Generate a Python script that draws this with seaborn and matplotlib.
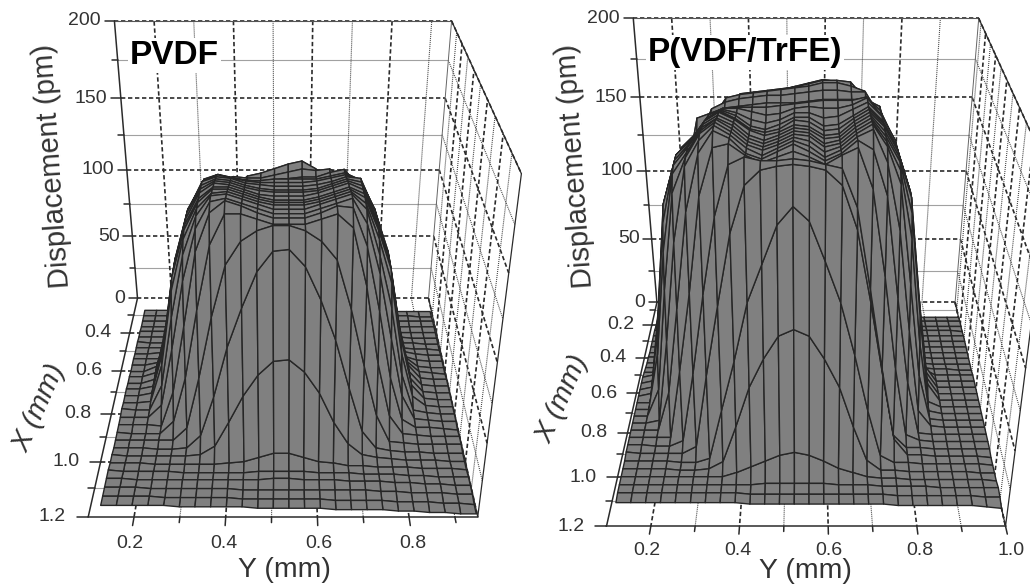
import numpy as np
import matplotlib
matplotlib.use('Agg')
import matplotlib.pyplot as plt
import seaborn as sns
from mpl_toolkits.mplot3d import proj3d

############################################
# Data
############################################

# PVDF: mm on both floor axes, displacement in pm
pvdf_y = [.13, .164, .198, .232, .266, .30, .334, .368, .402, .436, .47, .504, .538,
          .572, .606, .64, .674, .708, .742, .776, .81, .844, .878, .912, .946]
pvdf_x = [.28, .312, .343, .375, .407, .438, .47, .502, .534, .565, .597, .629, .66, .692, .724,
          .755, .787, .819, .851, .882, .914, .946, .977, 1.009, 1.041, 1.073, 1.104, 1.136, 1.168, 1.2]
pvdf_z = [
    [1, 1, 1, 1, 1, 1, 1, 1, 1, 1, 1, 1, 1, 1, 1, 1, 0, 0, 0, 0, 0, 0, 0, 0, 0],
    [1, 1, 1, 1, 1, 1, 1, 1, 1, 1, 1, 1, 1, 1, 1, 1, 1, 1, 1, 1, 1, 1, 1, 0, 0],
    [1, 1, 1, 1, 1, 1, 1, 1, 1, 2, 3, 7, 7, 4, 2, 1, 1, 1, 1, 1, 1, 1, 1, 1, 1],
    [1, 1, 1, 1, 1, 1, 1, 3, 21, 39, 50, 57, 57, 51, 42, 24, 4, 2, 1, 1, 1, 1, 1, 1, 1],
    [2, 2, 2, 2, 2, 2, 10, 38, 68, 88, 104, 112, 114, 108, 92, 70, 46, 17, 3, 2, 2, 1, 1, 1, 1],
    [2, 2, 2, 2, 3, 15, 50, 85, 112, 120, 122, 125, 128, 130, 125, 117, 98, 62, 25, 3, 2, 2, 1, 1, 1],
    [3, 2, 2, 3, 12, 45, 95, 120, 123, 122, 122, 124, 126, 128, 127, 128, 123, 100, 55, 18, 4, 2, 2, 1, 1],
    [3, 3, 3, 5, 30, 75, 118, 126, 125, 124, 123, 124, 125, 126, 126, 129, 131, 121, 85, 40, 8, 3, 2, 2, 1],
    [3, 3, 4, 15, 55, 100, 128, 131, 129, 127, 127, 128, 128, 128, 128, 130, 132, 128, 104, 62, 22, 5, 3, 2, 2],
    [4, 4, 4, 24, 72, 112, 130, 134, 132, 130, 129, 129, 129, 129, 130, 132, 134, 131, 112, 78, 32, 6, 3, 2, 2],
    [4, 4, 6, 30, 80, 116, 133, 136, 135, 132, 131, 130, 130, 130, 131, 133, 136, 135, 116, 85, 38, 10, 3, 2, 2],
    [4, 4, 8, 36, 88, 119, 134, 138, 137, 134, 132, 131, 131, 131, 132, 135, 138, 136, 119, 92, 45, 12, 4, 3, 2],
    [5, 5, 8, 38, 90, 120, 135, 140, 139, 136, 134, 133, 133, 133, 134, 137, 140, 137, 120, 95, 48, 14, 4, 3, 3],
    [5, 5, 8, 38, 90, 120, 136, 142, 141, 138, 135, 134, 134, 134, 136, 139, 142, 138, 120, 95, 48, 14, 4, 3, 3],
    [6, 6, 8, 38, 90, 120, 136, 143, 143, 140, 137, 135, 135, 135, 137, 140, 143, 139, 120, 95, 48, 14, 4, 3, 3],
    [6, 6, 8, 38, 90, 120, 137, 145, 145, 142, 139, 137, 137, 137, 139, 142, 145, 140, 120, 95, 48, 14, 4, 3, 3],
    [6, 6, 7, 34, 85, 118, 137, 146, 147, 144, 141, 139, 139, 139, 141, 144, 147, 140, 118, 90, 42, 11, 4, 3, 3],
    [7, 6, 6, 24, 72, 112, 136, 148, 149, 146, 143, 140, 140, 140, 143, 146, 149, 140, 112, 78, 32, 6, 4, 3, 3],
    [6, 6, 6, 15, 55, 100, 132, 148, 150, 147, 144, 141, 141, 141, 144, 147, 150, 135, 104, 62, 22, 5, 4, 3, 3],
    [6, 6, 6, 5, 30, 75, 122, 145, 152, 149, 145, 142, 142, 142, 145, 149, 148, 125, 85, 40, 10, 4, 4, 3, 2],
    [6, 5, 5, 5, 14, 45, 90, 130, 148, 148, 145, 142, 142, 142, 145, 148, 140, 105, 55, 18, 5, 4, 3, 3, 3],
    [6, 6, 6, 6, 6, 15, 50, 90, 122, 136, 142, 145, 145, 142, 136, 125, 95, 58, 24, 5, 4, 3, 3, 3, 3],
    [6, 6, 6, 5, 5, 6, 15, 42, 75, 100, 122, 134, 135, 125, 105, 80, 48, 18, 6, 4, 3, 3, 2, 2, 2],
    [7, 6, 6, 6, 6, 6, 7, 13, 30, 48, 62, 71, 72, 64, 50, 30, 15, 7, 5, 4, 3, 3, 3, 2, 2],
    [7, 7, 7, 6, 6, 6, 6, 6, 7, 8, 11, 14, 14, 11, 8, 7, 5, 5, 4, 4, 4, 3, 3, 3, 2],
    [8, 7, 7, 7, 7, 6, 6, 6, 6, 6, 7, 7, 7, 7, 6, 6, 6, 5, 5, 5, 4, 4, 3, 3, 3],
    [8, 8, 7, 7, 7, 7, 7, 7, 7, 7, 7, 8, 8, 7, 7, 7, 6, 6, 6, 5, 5, 4, 4, 3, 3],
    [8, 8, 8, 7, 7, 7, 7, 7, 7, 6, 6, 6, 6, 6, 6, 6, 6, 6, 5, 5, 4, 4, 4, 3, 3],
    [8, 8, 8, 8, 7, 7, 7, 7, 7, 6, 6, 6, 6, 6, 6, 5, 5, 5, 5, 4, 4, 4, 3, 3, 2],
    [8, 8, 8, 8, 8, 7, 7, 7, 7, 7, 6, 6, 6, 6, 6, 5, 5, 5, 5, 4, 4, 3, 3, 2, 2],
]

# P(VDF/TrFE)
trfe_y = [.114, .148, .182, .216, .25, .285, .319, .353, .387, .421, .455, .489, .523, .557,
          .591, .626, .66, .694, .728, .762, .796, .83, .864, .898, .932, .966, 1.0]
trfe_x = [.15, .184, .218, .251, .285, .319, .353, .387, .42, .454, .488, .522, .556, .589, .623,
          .657, .691, .725, .758, .792, .826, .86, .894, .927, .961, .995, 1.029, 1.063, 1.096, 1.13]
trfe_z = [
    [3, 3, 3, 3, 2, 2, 2, 2, 2, 1, 1, 1, 1, 1, 1, 1, 1, 1, 1, 1, 0, 0, 0, 0, 0, 0, 0],
    [1, 1, 1, 1, 1, 1, 1, 1, 1, 2, 8, 15, 18, 15, 8, 2, 1, 1, 1, 1, 1, 1, 1, 1, 1, 1, 1],
    [1, 1, 1, 1, 1, 1, 2, 16, 36, 56, 71, 79, 83, 79, 71, 56, 36, 17, 2, 1, 1, 1, 1, 1, 1, 1, 1],
    [2, 2, 2, 2, 2, 2, 31, 76, 101, 121, 136, 146, 149, 146, 136, 121, 101, 76, 36, 6, 2, 2, 2, 2, 2, 2, 1],
    [2, 2, 2, 2, 2, 13, 60, 105, 146, 166, 170, 172, 174, 176, 178, 177, 164, 140, 98, 58, 17, 2, 2, 2, 2, 2, 2],
    [2, 2, 2, 2, 16, 65, 115, 156, 172, 173, 174, 175, 176, 178, 180, 180, 179, 170, 130, 75, 17, 2, 2, 2, 2, 2, 2],
    [2, 2, 2, 4, 66, 115, 160, 172, 174, 175, 176, 177, 178, 179, 181, 181, 179, 176, 140, 72, 10, 2, 2, 2, 2, 2, 2],
    [2, 2, 3, 45, 104, 150, 168, 172, 174, 175, 176, 176, 177, 178, 179, 179, 178, 178, 165, 125, 55, 3, 2, 2, 2, 2, 2],
    [3, 3, 9, 68, 128, 165, 168, 171, 172, 173, 174, 174, 174, 175, 176, 176, 176, 176, 172, 146, 80, 15, 3, 2, 2, 2, 2],
    [3, 3, 25, 92, 144, 158, 168, 172, 174, 174, 174, 175, 176, 177, 178, 178, 178, 180, 172, 156, 100, 36, 3, 2, 2, 2, 2],
    [4, 4, 47, 112, 153, 161, 172, 176, 176, 174, 172, 173, 176, 177, 176, 176, 178, 182, 172, 158, 120, 55, 4, 3, 3, 2, 2],
    [5, 5, 57, 126, 154, 162, 173, 178, 176, 172, 170, 172, 176, 176, 173, 174, 178, 182, 174, 160, 132, 68, 8, 3, 3, 3, 3],
    [6, 8, 63, 132, 156, 164, 175, 180, 177, 171, 169, 172, 176, 176, 171, 172, 177, 182, 174, 160, 136, 72, 15, 3, 3, 3, 3],
    [6, 8, 63, 133, 158, 166, 177, 182, 178, 172, 170, 172, 177, 176, 171, 172, 178, 183, 175, 161, 137, 72, 15, 3, 3, 3, 3],
    [6, 8, 63, 134, 160, 168, 179, 184, 180, 174, 171, 173, 177, 176, 171, 172, 179, 184, 176, 162, 138, 72, 15, 3, 3, 3, 3],
    [6, 8, 63, 134, 160, 169, 180, 185, 181, 174, 171, 174, 178, 177, 172, 173, 180, 185, 176, 162, 138, 72, 15, 3, 3, 3, 3],
    [6, 6, 56, 126, 160, 170, 181, 186, 182, 175, 172, 175, 179, 178, 172, 174, 181, 186, 176, 162, 132, 67, 7, 3, 3, 3, 3],
    [6, 6, 45, 112, 158, 170, 182, 188, 183, 176, 173, 176, 180, 179, 173, 175, 182, 187, 176, 160, 120, 53, 5, 3, 3, 3, 3],
    [6, 6, 25, 92, 150, 170, 183, 189, 184, 177, 174, 177, 181, 179, 173, 176, 183, 188, 176, 155, 96, 35, 4, 3, 3, 3, 3],
    [6, 6, 8, 63, 125, 168, 182, 190, 185, 178, 174, 178, 182, 179, 173, 177, 184, 188, 170, 132, 70, 15, 4, 3, 3, 3, 3],
    [6, 6, 6, 33, 88, 146, 178, 190, 186, 178, 175, 179, 183, 179, 174, 178, 185, 180, 155, 95, 40, 4, 3, 3, 3, 3, 3],
    [6, 6, 6, 6, 52, 102, 158, 184, 186, 180, 176, 179, 182, 179, 175, 180, 184, 162, 112, 54, 8, 4, 3, 3, 3, 3, 3],
    [6, 6, 5, 5, 9, 55, 105, 150, 178, 182, 180, 180, 181, 180, 178, 176, 155, 108, 58, 13, 4, 4, 3, 3, 3, 3, 3],
    [6, 5, 5, 5, 5, 10, 58, 102, 144, 170, 178, 180, 181, 180, 178, 170, 146, 104, 58, 15, 4, 4, 3, 3, 3, 3, 2],
    [5, 5, 5, 5, 4, 4, 7, 40, 72, 108, 130, 152, 162, 154, 132, 108, 76, 40, 9, 4, 4, 3, 3, 3, 3, 3, 2],
    [5, 5, 5, 5, 4, 4, 5, 10, 34, 60, 78, 92, 96, 92, 78, 60, 34, 11, 4, 4, 3, 3, 3, 3, 3, 2, 2],
    [5, 5, 5, 5, 5, 5, 5, 5, 8, 12, 16, 20, 22, 20, 16, 11, 8, 5, 4, 4, 3, 3, 3, 3, 3, 3, 2],
    [5, 5, 5, 5, 5, 5, 5, 5, 5, 5, 6, 6, 6, 6, 6, 5, 5, 5, 4, 4, 4, 4, 3, 3, 3, 3, 3],
    [5, 5, 5, 5, 5, 5, 5, 5, 5, 4, 4, 4, 4, 4, 4, 4, 4, 4, 4, 3, 3, 3, 3, 3, 3, 2, 2],
    [4, 4, 4, 4, 4, 4, 4, 4, 4, 3, 3, 3, 3, 3, 3, 3, 3, 3, 3, 2, 2, 2, 2, 2, 2, 1, 0],
]

z_major = [0, 50, 100, 150, 200]
z_minor = [25, 75, 125, 175]
pvdf_y_major = [.2, .4, .6, .8]
pvdf_y_minor = [.3, .5, .7, .9]
pvdf_x_major = [.4, .6, .8, 1.0, 1.2]
pvdf_x_minor = [.3, .5, .7, .9, 1.1]
trfe_y_major = [.2, .4, .6, .8, 1.0]
trfe_y_minor = [.3, .5, .7, .9]
trfe_x_major = [.2, .4, .6, .8, 1.0, 1.2]
trfe_x_minor = [.1, .3, .5, .7, .9, 1.1]

############################################
# Plotting
############################################
sns.set_theme(style='white')
plt.rcParams['font.family'] = ['Liberation Sans', 'DejaVu Sans']

DARK = '#2b2b2b'
TXT = '#333333'
MESH = sns.dark_palette('#808080', n_colors=3)[0]


def tick_text(ax, x, y, z, s, ha):
    # 3D text confuses the layout check, so put the label on the projected spot
    x2, y2, _ = proj3d.proj_transform(x, y, z, ax.get_proj())
    ax.text2D(x2, y2, s, transform=ax.transData, ha=ha, va='center', fontsize=14, color=TXT, zorder=6)


def draw_panel(fig, cx, cy, side, y_lim, x_lim, ys, xs, zs, y_major, y_minor, x_major, x_minor):
    # cx, cy: where the middle of the box lands, in pixels from the top left
    rect = [(cx - .5135 * side) / 1030, (588 - cy - .5135 * side) / 588, side / 1030, side / 588]
    ax = fig.add_axes(rect, projection='3d')
    ax.set_proj_type('persp', focal_length=.314)
    ax.view_init(elev=30, azim=-90)
    ax.set_box_aspect((1, 1.04, .975), zoom=1)
    ax.set_xticks([])
    ax.set_yticks([])
    ax.set_zticks([])
    ax.set_xlim(*y_lim)
    ax.set_ylim(x_lim[1], x_lim[0])
    ax.set_zlim(0, 200)
    ax.set_axis_off()
    ax.patch.set_visible(False)
    ax.computed_zorder = False
    y0, y1 = y_lim
    x0, x1 = x_lim

    major = dict(color=DARK, lw=1.2, ls=(0, (2.6, 1.6)), zorder=1)
    minor = dict(color='#444444', lw=.8, ls=(0, (.9, .9)), zorder=1)

    # back wall and right wall
    for zs_, st in ((z_major, major), (z_minor, minor)):
        for z in zs_:
            ax.plot([y0, y1], [x0, x0], [z, z], **st)
            ax.plot([y1, y1], [x0, x1], [z, z], **st)
    for yv, st in [(v, major) for v in y_major] + [(v, minor) for v in y_minor]:
        if yv < y1:
            ax.plot([yv, yv], [x0, x0], [0, 200], **st)
        ax.plot([yv, yv], [x0, x1], [0, 0], **st)
    for xv, st in [(v, major) for v in x_major] + [(v, minor) for v in x_minor]:
        if xv < x1:
            ax.plot([y1, y1], [xv, xv], [0, 200], **st)
            ax.plot([y0, y1], [xv, xv], [0, 0], **st)
    ax.plot([y1, y1], [x0, x0], [0, 200], color='#666666', lw=.7, zorder=1)

    # box outline and axes
    solid = dict(color=DARK, lw=1.1, zorder=5)
    ax.plot([y0, y1], [x0, x0], [200, 200], color='#555555', lw=.8, zorder=1)
    ax.plot([y1, y1], [x0, x1], [200, 200], color=DARK, lw=.9, zorder=1)
    ax.plot([y1, y1], [x1, x1], [0, 200], color=DARK, lw=.9, zorder=1)
    ax.plot([y1, y1], [x0, x1], [0, 0], color=DARK, lw=.9, zorder=1)
    ax.plot([y0, y0], [x0, x0], [0, 200], **solid)
    ax.plot([y0, y0], [x0, x1], [0, 0], **solid)
    ax.plot([y0, y1], [x1, x1], [0, 0], **solid)

    # the measured surface
    Y, X = np.meshgrid(ys, xs)
    ax.plot_surface(Y, X, np.array(zs, dtype=float), rstride=1, cstride=1, color='#808080',
                    edgecolor=MESH, linewidth=1.0, shade=False, antialiased=True, zorder=3)

    # ticks and labels
    for z in z_major:
        ax.plot([y0 - .025, y0], [x0, x0], [z, z], **solid)
        tick_text(ax, y0 - .035, x0, z, str(z), 'right')
    for z in z_minor:
        ax.plot([y0 - .015, y0], [x0, x0], [z, z], **solid)
    for xv in x_major:
        ax.plot([y0 - .025, y0], [xv, xv], [0, 0], **solid)
        tick_text(ax, y0 - .05, xv, 0, f'{xv:.1f}', 'right')
    for xv in x_minor:
        ax.plot([y0 - .015, y0], [xv, xv], [0, 0], **solid)
    for yv in y_major:
        ax.plot([yv, yv], [x1, x1 + .03], [0, 0], **solid)
        tick_text(ax, yv, x1 + .09, 0, f'{yv:.1f}', 'center')
    for yv in y_minor:
        ax.plot([yv, yv], [x1, x1 + .02], [0, 0], **solid)
    return ax


fig = plt.figure(figsize=(10.3, 5.88), dpi=100)
draw_panel(fig, 283, 251, 611, (.1, .95), (.2, 1.2), pvdf_y, pvdf_x, pvdf_z,
           pvdf_y_major, pvdf_y_minor, pvdf_x_major, pvdf_x_minor)
draw_panel(fig, 806, 254, 626, (.1, 1.0), (.05, 1.2), trfe_y, trfe_x, trfe_z,
           trfe_y_major, trfe_y_minor, trfe_x_major, trfe_x_minor)


def label(px, py, s, **kw):
    fig.text(px / 1030, 1 - py / 588, s, ha='center', va='center', color=TXT, zorder=10, **kw)


label(53, 166, 'Displacement (pm)', fontsize=21, rotation=94)
label(576, 166, 'Displacement (pm)', fontsize=21, rotation=94)
label(284, 570, 'Y (mm)', fontsize=20.5)
label(805, 571, 'Y (mm)', fontsize=20.5)
label(40, 408, 'X (mm)', fontsize=20.5, rotation=66, style='italic')
label(563, 399, 'X (mm)', fontsize=20.5, rotation=66, style='italic')

box = dict(facecolor='white', edgecolor='none', pad=1.5)
fig.text(174 / 1030, 1 - 55 / 588, 'PVDF', fontsize=24, fontweight='bold', color='black',
         ha='center', va='center', bbox=box, zorder=10)
fig.text(745 / 1030, 1 - 52 / 588, 'P(VDF/TrFE)', fontsize=24, fontweight='bold', color='black',
         ha='center', va='center', bbox=box, zorder=10)

fig.savefig('out.png', dpi=100)
